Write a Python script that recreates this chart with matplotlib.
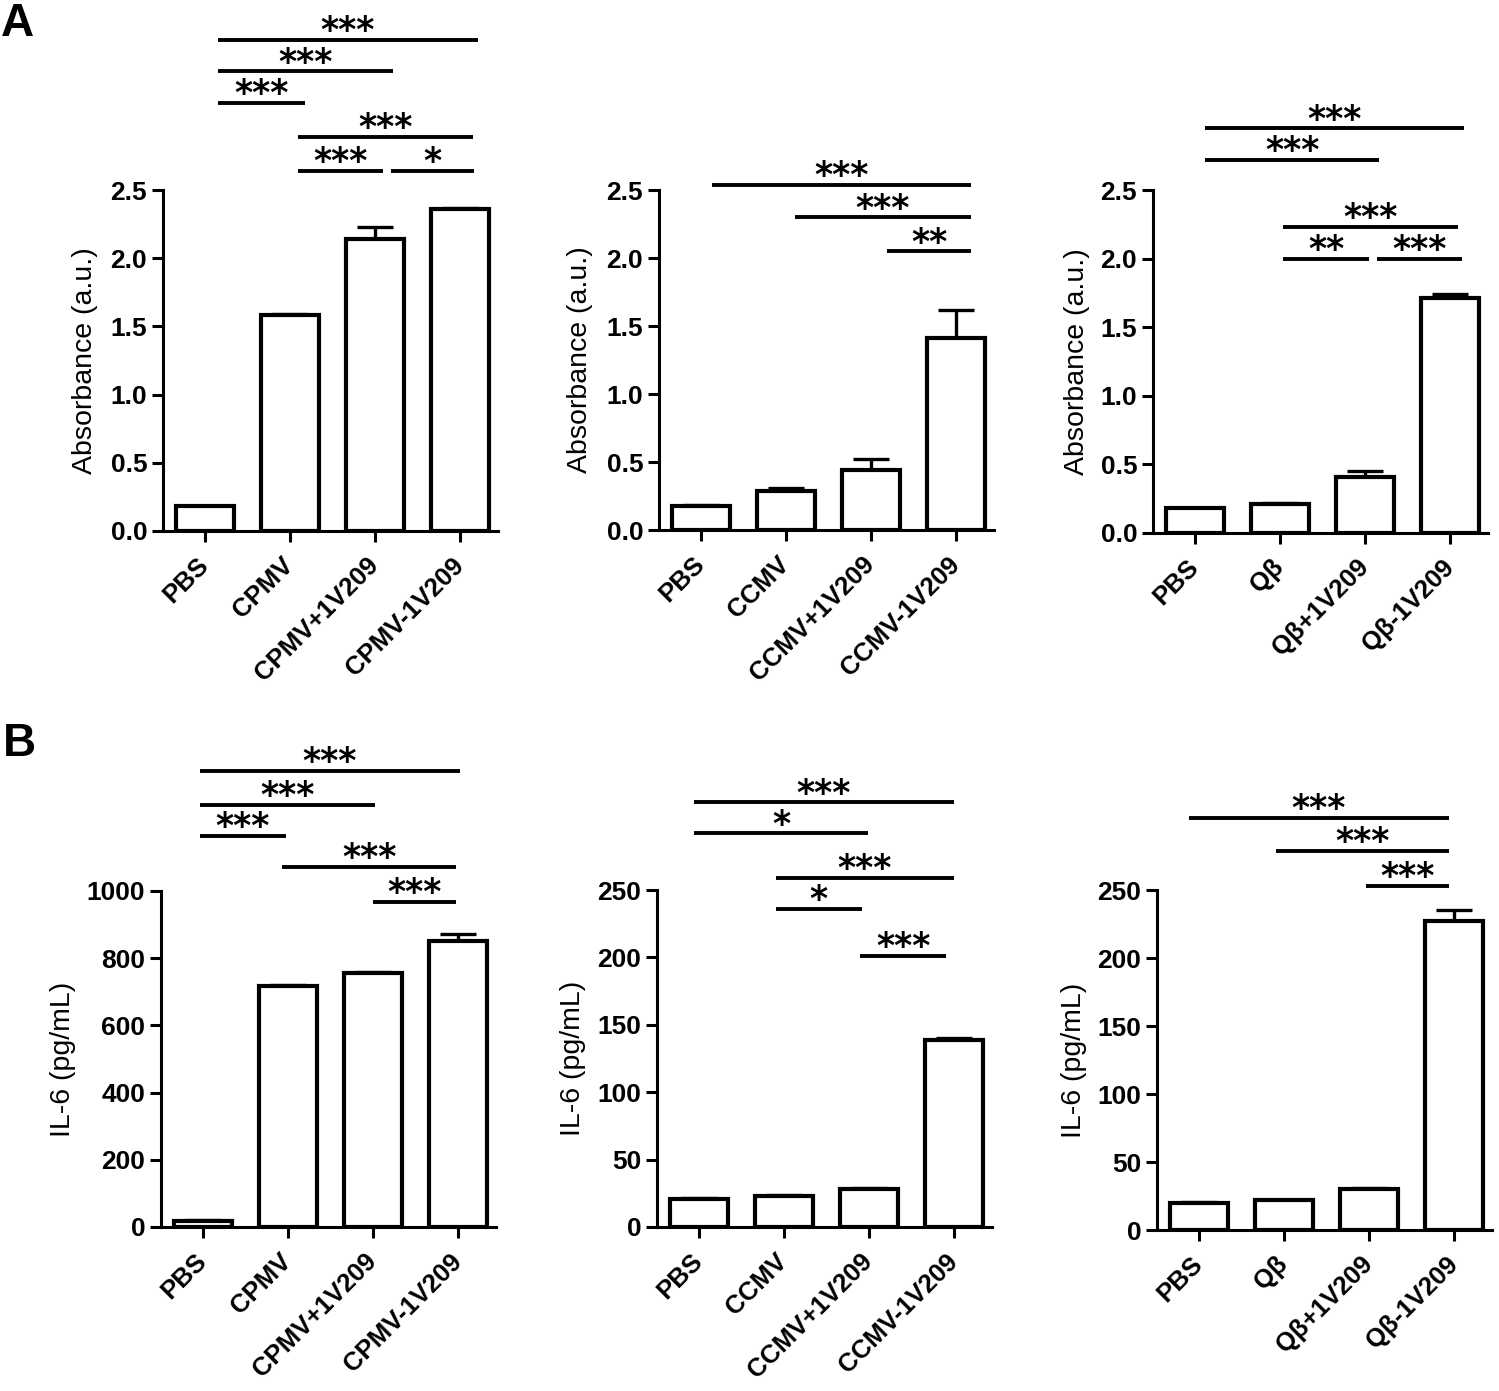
import numpy as np
import matplotlib
matplotlib.use('Agg')
import matplotlib.pyplot as plt

# Categories
groups_cpmv = ['PBS', 'CPMV', 'CPMV+1V209', 'CPMV-1V209']
groups_ccmv = ['PBS', 'CCMV', 'CCMV+1V209', 'CCMV-1V209']
groups_qb = ['PBS', 'Q\u03b2', 'Q\u03b2+1V209', 'Q\u03b2-1V209']

# A: absorbance (a.u.), mean and upper error
abs_cpmv = [0.18, 1.58, 2.14, 2.36]
abs_cpmv_err = [0.005, 0.01, 0.09, 0.005]
abs_ccmv = [0.18, 0.29, 0.44, 1.41]
abs_ccmv_err = [0.005, 0.02, 0.08, 0.21]
abs_qb = [0.18, 0.21, 0.41, 1.71]
abs_qb_err = [0.005, 0.01, 0.04, 0.03]

# B: IL-6 (pg/mL)
il6_cpmv = [18, 718, 755, 852]
il6_cpmv_err = [2, 2, 4, 21]
il6_ccmv = [21, 23, 28.4, 138.6]
il6_ccmv_err = [0.5, 0.5, 0.7, 1.5]
il6_qb = [19.8, 21.7, 30.2, 227]
il6_qb_err = [0.5, 0.5, 0.5, 8]

# significance brackets: (x start, x end, height, label)
sig_abs_cpmv = [(0.15, 3.21, 3.60, '***'), (0.15, 2.21, 3.37, '***'),
                (0.15, 1.18, 3.14, '***'), (1.09, 3.15, 2.89, '***'),
                (1.09, 2.10, 2.64, '***'), (2.19, 3.16, 2.64, '*')]
sig_abs_ccmv = [(0.13, 3.18, 2.54, '***'), (1.10, 3.18, 2.30, '***'),
                (2.19, 3.18, 2.05, '**')]
sig_abs_qb = [(0.12, 3.16, 2.95, '***'), (0.12, 2.17, 2.72, '***'),
              (1.04, 3.09, 2.23, '***'), (1.04, 2.05, 2.00, '**'),
              (2.14, 3.14, 2.00, '***')]
sig_il6_cpmv = [(-0.04, 3.02, 1357, '***'), (-0.04, 2.02, 1256, '***'),
                (-0.04, 0.98, 1164, '***'), (0.93, 2.98, 1072, '***'),
                (2.00, 2.98, 967, '***')]
sig_il6_ccmv = [(-0.06, 3.00, 315, '***'), (-0.06, 1.99, 292, '*'),
                (0.90, 3.00, 259, '***'), (0.90, 1.92, 236, '*'),
                (1.90, 2.91, 201, '***')]
sig_il6_qb = [(-0.12, 2.94, 303, '***'), (0.90, 2.94, 279, '***'),
              (1.97, 2.94, 253, '***')]

W, H = 1499, 1391
fig = plt.figure(figsize=(W / 100, H / 100), dpi=100)

FONT = 'Liberation Sans'
STAR_FONT = 'DejaVu Sans'
UNIT = 85.0          # pixels per category
XLIM = (-0.5, 3.45)


def make_axes(center0, top, bottom):
    left = center0 - 0.5 * UNIT
    width = (XLIM[1] - XLIM[0]) * UNIT
    return fig.add_axes([left / W, 1 - bottom / H, width / W, (bottom - top) / H]), width


def draw_panel(center0, top, bottom, groups, vals, errs, yticks, fmt,
               ylabel, label_dx, sig):
    ax, width = make_axes(center0, top, bottom)
    x = np.arange(len(groups))
    ax.errorbar(x, vals, yerr=[np.zeros(len(vals)), errs], fmt='none',
                ecolor='black', elinewidth=2.4, capsize=13, capthick=2.4,
                zorder=1)
    ax.bar(x, vals, width=0.68, color='white', edgecolor='black',
           linewidth=3.0, zorder=2)
    ax.set_xlim(*XLIM)
    ax.set_ylim(yticks[0], yticks[-1])
    ax.set_yticks(yticks)
    ax.set_yticklabels([fmt % t for t in yticks], fontfamily=FONT,
                       fontweight='bold', fontsize=19)
    ax.set_xticks(x)
    ax.set_xticklabels(groups, rotation=45, ha='right', va='center',
                       rotation_mode='anchor', fontfamily=FONT,
                       fontweight='bold', fontsize=18.5)
    for s in ['top', 'right']:
        ax.spines[s].set_visible(False)
    for s in ['left', 'bottom']:
        ax.spines[s].set_linewidth(2.2)
    ax.tick_params(axis='both', direction='out', length=8, width=2.2)
    ax.tick_params(axis='y', pad=3)
    ax.tick_params(axis='x', pad=14)
    ax.set_ylabel(ylabel, fontfamily=FONT, fontsize=20.5, va='center')
    ax.yaxis.set_label_coords(-label_dx / width, 0.5)

    # significance bars
    for x0, x1, y, lab in sig:
        ax.plot([x0, x1], [y, y], color='black', lw=2.8, clip_on=False,
                solid_capstyle='butt')
        ax.annotate(lab, xy=((x0 + x1) / 2, y), xytext=(0, -1),
                    textcoords='offset points', ha='center', va='baseline',
                    fontfamily=STAR_FONT, fontweight='bold', fontsize=25,
                    annotation_clip=False)
    return ax


abs_ticks = [0.0, 0.5, 1.0, 1.5, 2.0, 2.5]
draw_panel(205, 190, 531, groups_cpmv, abs_cpmv, abs_cpmv_err, abs_ticks,
           '%.1f', 'Absorbance (a.u.)', 77.5, sig_abs_cpmv)
draw_panel(701, 190, 530, groups_ccmv, abs_ccmv, abs_ccmv_err, abs_ticks,
           '%.1f', 'Absorbance (a.u.)', 78.5, sig_abs_ccmv)
draw_panel(1195, 190, 533, groups_qb, abs_qb, abs_qb_err, abs_ticks,
           '%.1f', 'Absorbance (a.u.)', 75.5, sig_abs_qb)

draw_panel(203, 891, 1227, groups_cpmv, il6_cpmv, il6_cpmv_err,
           [0, 200, 400, 600, 800, 1000], '%d', 'IL-6 (pg/mL)', 97.5,
           sig_il6_cpmv)
draw_panel(699, 890, 1227, groups_ccmv, il6_ccmv, il6_ccmv_err,
           [0, 50, 100, 150, 200, 250], '%d', 'IL-6 (pg/mL)', 83.5,
           sig_il6_ccmv)
draw_panel(1199, 890, 1230, groups_qb, il6_qb, il6_qb_err,
           [0, 50, 100, 150, 200, 250], '%d', 'IL-6 (pg/mL)', 82.5,
           sig_il6_qb)

# panel letters
fig.text(1 / W, 1 - 2 / H, 'A', fontfamily=FONT, fontweight='bold',
         fontsize=33, ha='left', va='top')
fig.text(3 / W, 1 - 722 / H, 'B', fontfamily=FONT, fontweight='bold',
         fontsize=33, ha='left', va='top')

fig.savefig('out.png', dpi=100, facecolor='white')
